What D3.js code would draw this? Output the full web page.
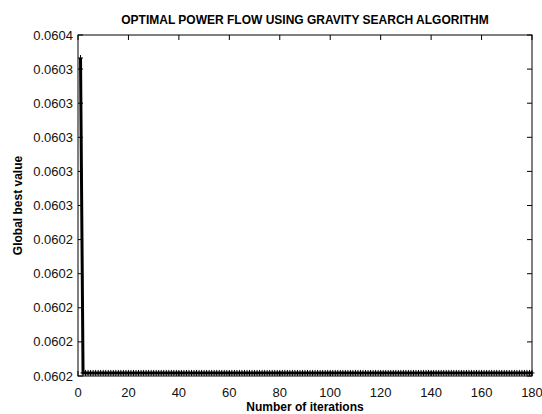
<!DOCTYPE html>
<html><head><meta charset="utf-8">
<script src="https://cdn.jsdelivr.net/npm/d3@7"></script>
<style>
body{margin:0;background:#fff;}
svg{display:block;}
text{font-family:"Liberation Sans",Arial,sans-serif;}
</style></head>
<body><svg id="c" width="542" height="414"></svg>
<script>
// Data
const title = "OPTIMAL POWER FLOW USING GRAVITY SEARCH ALGORITHM";
const xLabel = "Number of iterations";
const yLabel = "Global best value";
const xTicks = [0,20,40,60,80,100,120,140,160,180];
const yTicks = [0.0602,0.06022,0.06024,0.06026,0.06028,0.0603,0.06032,0.06034,0.06036,0.06038,0.0604];
const yTickLabels = ["0.0602","0.0602","0.0602","0.0602","0.0602","0.0603","0.0603","0.0603","0.0603","0.0603","0.0604"];
const headIterations = [1,2];
const headValues = [0.0603865,0.0602018];
const plateauValue = 0.0602018;
const lastIteration = 180;

const iterations = headIterations.slice();
const values = headValues.slice();
for (let i = headIterations[headIterations.length-1]+1; i <= lastIteration; i++) { iterations.push(i); values.push(plateauValue); }
const data = iterations.map((d,i)=>({x:d,y:values[i]}));

const svg = d3.select("#c");
const L=78, R=532, T=35, B=376;
const x = d3.scaleLinear().domain([0,180]).range([L,R]);
const y = d3.scaleLinear().domain([0.0602,0.0604]).range([B,T]);

const tickLen = 5;
const g = svg.append("g");
xTicks.forEach(t=>{
  g.append("line").attr("x1",x(t)).attr("x2",x(t)).attr("y1",B).attr("y2",B-tickLen).attr("stroke","#000");
  g.append("line").attr("x1",x(t)).attr("x2",x(t)).attr("y1",T).attr("y2",T+tickLen).attr("stroke","#000");
  g.append("text").attr("x",x(t)).attr("y",B+21).attr("text-anchor","middle").attr("font-size","13px").attr("fill","#111").text(d3.format("d")(t));
});
yTicks.forEach((t,i)=>{
  g.append("line").attr("x1",L).attr("x2",L+tickLen).attr("y1",y(t)).attr("y2",y(t)).attr("stroke","#000");
  g.append("line").attr("x1",R).attr("x2",R-tickLen).attr("y1",y(t)).attr("y2",y(t)).attr("stroke","#000");
  g.append("text").attr("x",L-5).attr("y",y(t)+4.5).attr("text-anchor","end").attr("font-size","13px").attr("fill","#111").text(yTickLabels[i]);
});

const line = d3.line().x(d=>x(d.x)).y(d=>y(d.y));
svg.append("path").datum(data).attr("d",line).attr("fill","none").attr("stroke","#000").attr("stroke-width",3);
svg.append("g").selectAll("path").data(data).join("path")
  .attr("d",d=>`M${x(d.x)-2.5},${y(d.y)}h5M${x(d.x)},${y(d.y)-3}v6`)
  .attr("stroke","#000").attr("stroke-width",1);

svg.append("rect").attr("x",L).attr("y",T).attr("width",R-L).attr("height",B-T).attr("fill","none").attr("stroke","#000").attr("stroke-width",1);

svg.append("text").attr("x",(L+R)/2).attr("y",24).attr("text-anchor","middle").attr("font-size","12px").attr("font-weight","bold").text(title);
svg.append("text").attr("x",(L+R)/2).attr("y",411).attr("text-anchor","middle").attr("font-size","12px").attr("font-weight","bold").text(xLabel);
svg.append("text").attr("transform",`translate(22,${(T+B)/2}) rotate(-90)`).attr("text-anchor","middle").attr("font-size","12px").attr("font-weight","bold").text(yLabel);
</script></body></html>
